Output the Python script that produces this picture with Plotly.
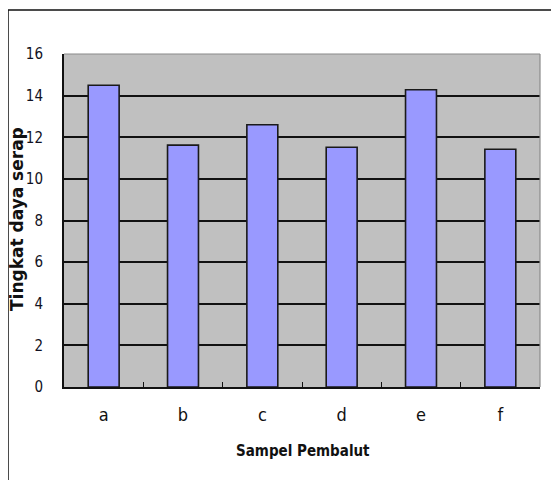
import plotly.graph_objects as go

categories = ["a", "b", "c", "d", "e", "f"]
values = [14.5, 11.62, 12.6, 11.52, 14.28, 11.42]
y_ticks = [0, 2, 4, 6, 8, 10, 12, 14, 16]
x_title = "Sampel Pembalut"
y_title = "Tingkat daya serap"

# page body has an 8px margin, so work in figure coordinates (page - 8)
OFF = 8
W, H = 559 - OFF, 480 - OFF
L, R, T, B = 64 - OFF, 540 - OFF, 54 - OFF, 387 - OFF

NARROW = "Liberation Sans Narrow, DejaVu Sans Condensed, Arial Narrow, sans-serif"

fig = go.Figure()
fig.add_trace(go.Bar(
    x=categories, y=values,
    marker=dict(color="#9999ff", line=dict(color="#1a1a1a", width=1.6)),
))

pw, ph = R - L, B - T
def px(x):
    return (x - OFF - L) / pw
def py(y):
    return (B - (y - OFF)) / ph

fig.update_layout(
    width=W, height=H,
    margin=dict(l=L, r=W - R, t=T, b=H - B, autoexpand=False),
    paper_bgcolor="white",
    plot_bgcolor="#c0c0c0",
    showlegend=False,
    bargap=0.61,
    xaxis=dict(
        type="category",
        showgrid=False,
        showline=True, linecolor="#111111", linewidth=2,
        ticks="inside", tickson="boundaries", ticklen=5, tickwidth=1.2, tickcolor="#111111",
        tickfont=dict(family=NARROW, size=18, color="#111111"),
        ticklabelstandoff=10,
        zeroline=False,
    ),
    yaxis=dict(
        range=[0, 16],
        tickvals=y_ticks,
        showgrid=True, gridcolor="#111111", gridwidth=2,
        showline=True, linecolor="#111111", linewidth=2,
        ticks="",
        tickfont=dict(family=NARROW, size=15, color="#111122"),
        ticklabelstandoff=16,
        zeroline=False,
    ),
    annotations=[
        dict(text="<b>" + y_title + "</b>", textangle=-90, x=px(17), y=py(219),
             xref="paper", yref="paper", showarrow=False,
             xanchor="center", yanchor="middle",
             font=dict(family="DejaVu Sans, Liberation Sans, sans-serif", size=17, color="#111111")),
        dict(text="<b>" + x_title + "</b>", x=px(303), y=py(451),
             xref="paper", yref="paper", showarrow=False,
             xanchor="center", yanchor="middle",
             font=dict(family=NARROW, size=15, color="#111111")),
    ],
    shapes=[
        # outer frame (left and top edges visible)
        dict(type="rect", xref="paper", yref="paper",
             x0=px(8), x1=px(W + 40), y0=py(H + 40), y1=py(10),
             line=dict(color="#111111", width=1.5), fillcolor="rgba(0,0,0,0)", layer="above"),
        # gray top and right plot border
        dict(type="line", xref="paper", yref="paper", x0=0, x1=1, y0=1, y1=1,
             line=dict(color="#8a8a8a", width=1.2), layer="above"),
        dict(type="line", xref="paper", yref="paper", x0=1, x1=1, y0=0, y1=1,
             line=dict(color="#8a8a8a", width=1.2), layer="above"),
    ],
)

fig.write_html("out.html")
